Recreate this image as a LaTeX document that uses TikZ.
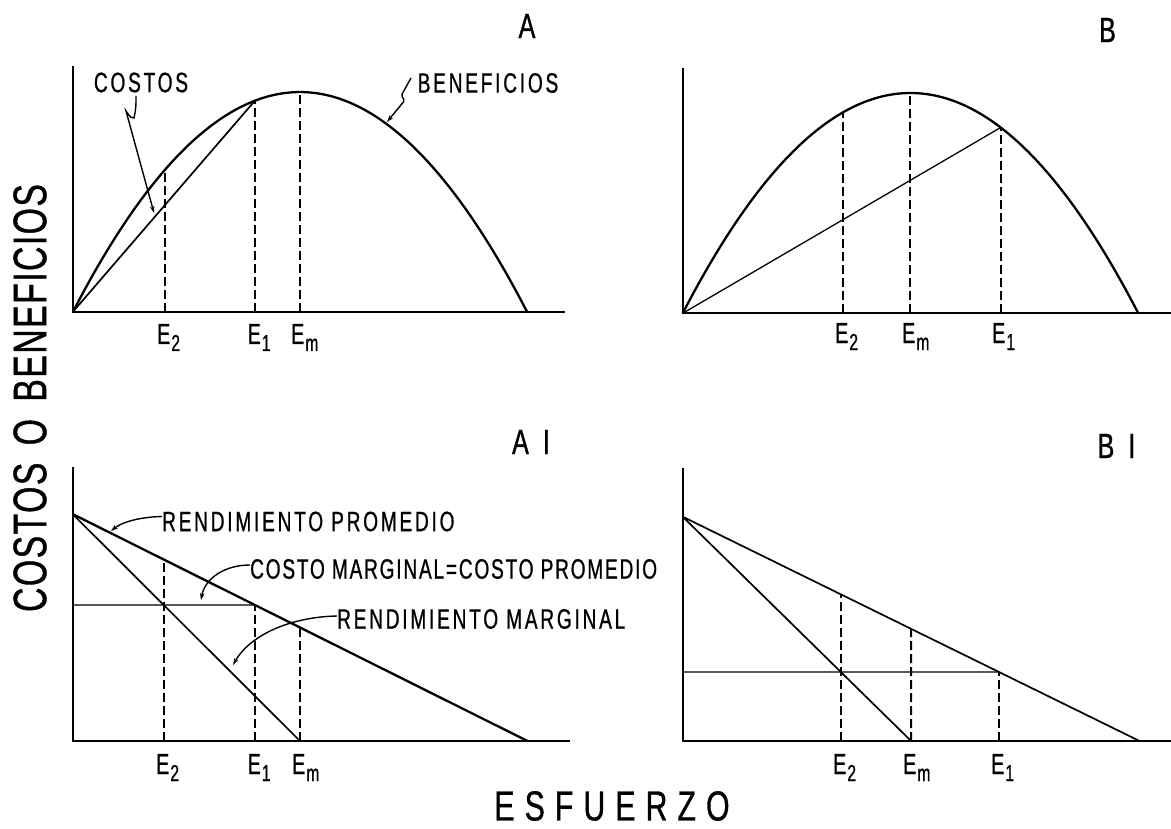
\documentclass[tikz,border=0pt]{standalone}
\usepackage{fontspec}
\setmainfont{Liberation Sans}[FakeStretch=0.72,FakeBold=0.8]
\newfontfamily\lab{Liberation Sans}[FakeStretch=0.68,LetterSpace=10,FakeBold=0.8]
\newfontfamily\labc{Liberation Sans}[FakeStretch=0.68,LetterSpace=6.5,FakeBold=0.8]
\newfontfamily\wlab{Liberation Sans}[FakeStretch=0.72,LetterSpace=24,FakeBold=0.8]
\newfontfamily\ylab{Liberation Sans}[FakeStretch=0.72,LetterSpace=3,WordSpace=1.6,FakeBold=0.8]
\usetikzlibrary{arrows.meta,calc}
\newcommand{\Elab}[1]{E\kern1pt\raisebox{-7pt}{\fontsize{23}{23}\selectfont #1}}
\begin{document}
\begin{tikzpicture}[x=1pt,y=-1pt,
  axis/.style={line width=2pt},
  curve/.style={line width=2.3pt},
  thinl/.style={line width=1.7pt},
  finel/.style={line width=1.3pt},
  dsh/.style={line width=2pt, dash pattern=on 9pt off 4pt},
  lead/.style={line width=1.4pt, -{Stealth[length=7pt,width=4.5pt]}},
  lbl/.style={font=\lab\fontsize{28}{28}\selectfont, inner sep=0pt},
  lblc/.style={font=\labc\fontsize{28}{28}\selectfont, inner sep=0pt},
  elbl/.style={font=\lab\fontsize{29}{29}\selectfont, inner sep=0pt, anchor=base west},
  ttl/.style={font=\fontsize{35}{35}\selectfont, inner sep=0pt}]
\useasboundingbox (0,0) rectangle (1171,829);
\fill[white] (0,0) rectangle (1171,829);

% ---------------- Panel A ----------------
\coordinate (Ao) at (73,311.7);
\coordinate (Ay) at (73,66);
\coordinate (Ax) at (565,311.7);
\coordinate (Aend) at (527,311.7);
\coordinate (AE2t) at (165,169.7);
\coordinate (AE1t) at (255,100.6);
\coordinate (AEmt) at (300,92);
\draw[axis] (Ay) -- (Ao) -- (Ax);
\draw[curve] (Ao) .. controls (224.33,18.83) and (375.67,18.83) .. (Aend);
\draw[thinl] (Ao) -- (AE1t);
\draw[dsh] (AE2t |- Ao) -- (AE2t);
\draw[dsh] (AE1t |- Ao) -- (AE1t);
\draw[dsh] (AEmt |- Ao) -- (AEmt);
\node[elbl] (lAE2) at (157,344) {\Elab{2}};
\node[elbl] (lAE1) at (247.5,344) {\Elab{1}};
\node[elbl] (lAEm) at (291,344) {\Elab{m}};
\node[lbl] (costos) at (141,82.5) {COSTOS};
\coordinate (cs1) at (136,96);
\coordinate (cs2) at (134,118);
\coordinate (cs3) at (126,111);
\coordinate (cs4) at (154,213);
\draw[lead] (cs1) .. controls (136,108) .. (cs2) .. controls (131,118) .. (cs3) -- (cs4);
\node[lbl] (benef) at (488,83) {BENEFICIOS};
\coordinate (bn1) at (411,78);
\coordinate (bn2) at (401,96);
\coordinate (bn3) at (405,100);
\coordinate (bn4) at (387,122);
\draw[lead, rounded corners=2pt] (bn1) -- (bn2) -- (bn3) -- (bn4);
\node[ttl] (tA) at (527,26) {A};

% ---------------- Panel B ----------------
\coordinate (Bo) at (682.7,313.3);
\coordinate (By) at (682.7,68.3);
\coordinate (Bx) at (1171,313.3);
\coordinate (Bend) at (1138.3,313.3);
\coordinate (BE2t) at (842.7,112.5);
\coordinate (BEmt) at (910,93);
\coordinate (BE1t) at (1000.7,127.5);
\draw[axis] (By) -- (Bo) -- (Bx);
\draw[curve] (Bo) .. controls (834.57,19.57) and (986.43,19.57) .. (Bend);
\draw[finel] (Bo) -- (BE1t);
\draw[dsh] (BE2t |- Bo) -- (BE2t);
\draw[dsh] (BEmt |- Bo) -- (BEmt);
\draw[dsh] (BE1t |- Bo) -- (BE1t);
\node[elbl] (lBE2) at (835,343) {\Elab{2}};
\node[elbl] (lBEm) at (902,343) {\Elab{m}};
\node[elbl] (lBE1) at (992,343) {\Elab{1}};
\node[ttl] (tB) at (1107.5,30) {B};

% ---------------- Panel A1 ----------------
\coordinate (A1o) at (72.5,741);
\coordinate (A1y) at (72.5,467);
\coordinate (A1x) at (570,741);
\coordinate (A1p) at (72.5,514);
\coordinate (A1a) at (527.5,741);
\coordinate (A1m) at (300,741);
\coordinate (A1E2) at ($(A1p)!0.4009!(A1m)$);
\coordinate (A1E1) at ($(A1p)!0.4009!(A1a)$);
\coordinate (A1c) at (72.5,605);
\coordinate (A1E2t) at ($(A1p)!0.2004!(A1a)$);
\coordinate (A1Emt) at ($(A1p)!0.5!(A1a)$);
\draw[axis] (A1y) -- (A1o) -- (A1x);
\draw[curve] (A1p) -- (A1a);
\draw[thinl] (A1p) -- (A1m);
\draw[finel] (A1c) -- (A1E1);
\draw[dsh] (A1E2t |- A1o) -- (A1E2t);
\draw[dsh] (A1E1 |- A1o) -- (A1E1);
\draw[dsh] (A1m) -- (A1Emt);
\node[elbl] (lA1E2) at (156,774) {\Elab{2}};
\node[elbl] (lA1E1) at (247.5,774) {\Elab{1}};
\node[elbl] (lA1Em) at (292,774) {\Elab{m}};
\node[lbl, anchor=west] (rp) at (162,521.5) {RENDIMIENTO PROMEDIO};
\node[lblc, anchor=west] (cm) at (250,569) {COSTO MARGINAL=COSTO PROMEDIO};
\node[lbl, anchor=west] (rm) at (337,619) {RENDIMIENTO MARGINAL};
\coordinate (rpt) at (111,531);
\coordinate (cmt) at (201,600);
\coordinate (rmt) at (233,665);
\draw[lead] ([yshift=5pt]rp.west) .. controls (140,517) and (122,522) .. (rpt);
\draw[lead] ([yshift=4pt]cm.west) .. controls (225,565) and (205,578) .. (cmt);
\draw[lead] ([yshift=3pt]rm.west) .. controls (290,617) and (250,635) .. (rmt);
\node[ttl] (tA1) at (531,442) {A\hspace{14pt}I};

% ---------------- Panel B1 ----------------
\coordinate (B1o) at (682.7,741);
\coordinate (B1y) at (682.7,468);
\coordinate (B1x) at (1171,741);
\coordinate (B1p) at (682.7,516.7);
\coordinate (B1a) at (1139.5,741);
\coordinate (B1m) at (911.1,741);
\coordinate (B1E2) at ($(B1p)!0.6924!(B1m)$);
\coordinate (B1E1) at ($(B1p)!0.6924!(B1a)$);
\coordinate (B1c) at (682.7,672);
\coordinate (B1E2t) at ($(B1p)!0.3462!(B1a)$);
\coordinate (B1Emt) at ($(B1p)!0.5!(B1a)$);
\draw[axis] (B1y) -- (B1o) -- (B1x);
\draw[thinl] (B1p) -- (B1a);
\draw[thinl] (B1p) -- (B1m);
\draw[finel] (B1c) -- (B1E1);
\draw[dsh] (B1E2t |- B1o) -- (B1E2t);
\draw[dsh] (B1m) -- (B1Emt);
\draw[dsh] (B1E1 |- B1o) -- (B1E1);
\node[elbl] (lB1E2) at (833,774) {\Elab{2}};
\node[elbl] (lB1Em) at (903,774) {\Elab{m}};
\node[elbl] (lB1E1) at (991,774) {\Elab{1}};
\node[ttl] (tB1) at (1116.5,446) {B\hspace{14pt}I};

% ---------------- axis titles ----------------
\node[font=\ylab\fontsize{47}{47}\selectfont, rotate=90, inner sep=0pt] (ylab) at (30,398) {COSTOS O BENEFICIOS};
\node[font=\wlab\fontsize{42}{42}\selectfont, inner sep=0pt] (xlab) at (612,806) {ESFUERZO};
\end{tikzpicture}
\end{document}
